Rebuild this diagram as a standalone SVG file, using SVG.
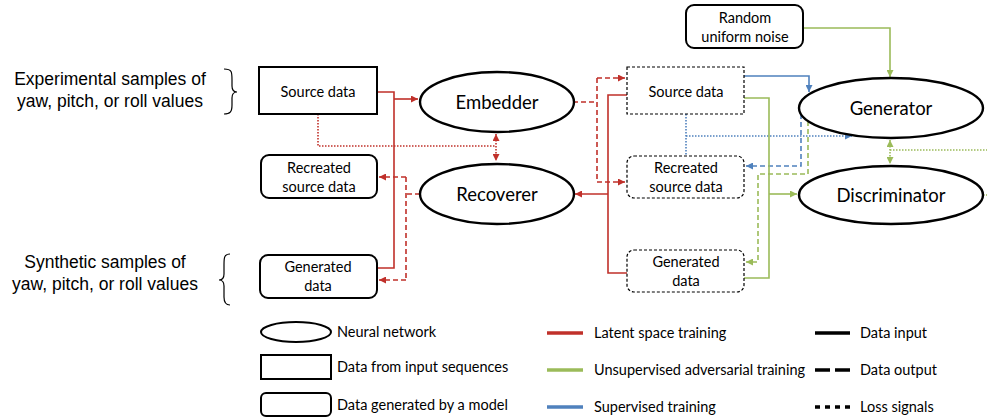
<svg xmlns="http://www.w3.org/2000/svg" width="987" height="420" viewBox="0 0 987 420">
<style>
text{font-family:Lato,"Open Sans",sans-serif;fill:#000}
.side{font-family:"Liberation Sans",Arial,sans-serif;font-size:17.5px;text-anchor:middle}
.nn{font-size:18.5px;text-anchor:middle}
.lbl{font-size:14.5px;text-anchor:middle}
.leg{font-size:14.5px}
.ell{fill:#fff;stroke:#000;stroke-width:2.4}
.inp{fill:#fff;stroke:#000;stroke-width:2}
.gen{fill:#fff;stroke:#000;stroke-width:2}
.dsh{fill:#fff;stroke:#000;stroke-width:1.2;stroke-dasharray:3,2}
.c{fill:none;stroke-width:1.6}
.r{stroke:#c0302a}.g{stroke:#9bbb59}.b{stroke:#4f81bd}
.da{stroke-dasharray:5,3}
.dt{stroke-dasharray:1.5,1.5}
.brace{fill:none;stroke:#000;stroke-width:1.2}
</style>
<defs>
<marker id="ar" viewBox="0 0 8 8" refX="8" refY="4" markerWidth="7" markerHeight="7" markerUnits="userSpaceOnUse" orient="auto-start-reverse"><path d="M0,0 L8,4 L0,8 Z" fill="#c0302a"/></marker>
<marker id="ag" viewBox="0 0 8 8" refX="8" refY="4" markerWidth="7" markerHeight="7" markerUnits="userSpaceOnUse" orient="auto-start-reverse"><path d="M0,0 L8,4 L0,8 Z" fill="#9bbb59"/></marker>
<marker id="ab" viewBox="0 0 8 8" refX="8" refY="4" markerWidth="7" markerHeight="7" markerUnits="userSpaceOnUse" orient="auto-start-reverse"><path d="M0,0 L8,4 L0,8 Z" fill="#4f81bd"/></marker>
</defs>
<rect width="987" height="420" fill="#fff"/>

<g id="side-labels">
<text class="side" x="110" y="85">Experimental samples of</text>
<text class="side" x="110" y="107">yaw, pitch, or roll values</text>
<path class="brace" d="M224,69 C232,69 232,72 232,80 L232,86 C232,90 234,92 237,92 C234,92 232,94 232,98 L232,105 C232,112 230,114 224,114"/>
<text class="side" x="105" y="268">Synthetic samples of</text>
<text class="side" x="105" y="290">yaw, pitch, or roll values</text>
<path class="brace" d="M230,254 C224,254 224,258 224,265 L224,274 C224,278 222,280 219,280 C222,280 224,282 224,286 L224,297 C224,303 226,305 230,305"/>
</g>

<g id="connectors">
<path class="c r" d="M377,92 H394 V268 H377"/>
<path class="c r" d="M394,99 H418" marker-end="url(#ar)"/>
<path class="c r da" d="M420,194 H406"/>
<path class="c r da" d="M406,177 V280"/>
<path class="c r da" d="M406,177 H379" marker-end="url(#ar)"/>
<path class="c r da" d="M406,280 H379" marker-end="url(#ar)"/>
<path class="c r dt" d="M318,114 V146 H496"/>
<path class="c r dt" d="M496,134 V161" marker-start="url(#ar)" marker-end="url(#ar)"/>
<path class="c r da" d="M573,102 H597"/>
<path class="c r da" d="M597,78 V182"/>
<path class="c r da" d="M597,78 H625" marker-end="url(#ar)"/>
<path class="c r da" d="M597,182 H625" marker-end="url(#ar)"/>
<path class="c r" d="M627,95 H608 V273 H627"/>
<path class="c r" d="M608,194 H575" marker-end="url(#ar)"/>
<path class="c b" d="M744,76 H809 V92" marker-end="url(#ab)"/>
<path class="c b dt" d="M686,114 V156"/>
<path class="c b dt" d="M686,136 H852" marker-end="url(#ab)"/>
<path class="c b da" d="M801,114 V166 H746" marker-end="url(#ab)"/>
<path class="c g" d="M803,28 H890 V77" marker-end="url(#ag)"/>
<path class="c g" d="M744,98 H769 V278 H744"/>
<path class="c g" d="M769,194 H797" marker-end="url(#ag)"/>
<path class="c g da" d="M808,121 V174 H758 V262 H746" marker-end="url(#ag)"/>
<path class="c g dt" d="M890,140 V164" marker-start="url(#ag)" marker-end="url(#ag)"/>
<path class="c g dt" d="M890,150 H987"/>
<path class="c g dt" d="M983,195 H987"/>
</g>

<g id="source-data">
<rect class="inp" x="259" y="67" width="118" height="47"/>
<text class="lbl" x="318" y="97">Source data</text>
</g>
<g id="recreated-source-data">
<rect class="gen" x="261" y="155" width="116" height="43" rx="8"/>
<text class="lbl" x="319" y="173">Recreated</text>
<text class="lbl" x="319" y="192">source data</text>
</g>
<g id="generated-data">
<rect class="gen" x="260" y="255" width="117" height="43" rx="8"/>
<text class="lbl" x="318" y="272">Generated</text>
<text class="lbl" x="318" y="291">data</text>
</g>
<g id="embedder">
<ellipse class="ell" cx="497" cy="102" rx="77" ry="30"/>
<text class="nn" x="497" y="109">Embedder</text>
</g>
<g id="recoverer">
<ellipse class="ell" cx="497" cy="194" rx="77" ry="30"/>
<text class="nn" x="497" y="201">Recoverer</text>
</g>
<g id="latent-source-data">
<rect class="dsh" x="627" y="67" width="117" height="47"/>
<text class="lbl" x="686" y="97">Source data</text>
</g>
<g id="latent-recreated-source-data">
<rect class="dsh" x="627" y="156" width="117" height="42" rx="7"/>
<text class="lbl" x="686" y="173">Recreated</text>
<text class="lbl" x="686" y="192">source data</text>
</g>
<g id="latent-generated-data">
<rect class="dsh" x="627" y="250" width="117" height="42" rx="7"/>
<text class="lbl" x="686" y="267">Generated</text>
<text class="lbl" x="686" y="286">data</text>
</g>
<g id="random-noise">
<rect class="gen" x="686" y="5" width="117" height="43" rx="8"/>
<text class="lbl" x="745" y="23">Random</text>
<text class="lbl" x="745" y="42">uniform noise</text>
</g>
<g id="generator">
<ellipse class="ell" cx="891" cy="108" rx="92" ry="30"/>
<text class="nn" x="891" y="115">Generator</text>
</g>
<g id="discriminator">
<ellipse class="ell" cx="891" cy="195" rx="92" ry="29"/>
<text class="nn" x="891" y="202">Discriminator</text>
</g>

<g id="legend">
<ellipse class="ell" cx="296" cy="332" rx="35" ry="10" style="stroke-width:2"/>
<text class="leg" x="337" y="337">Neural network</text>
<rect class="inp" x="261" y="355" width="70" height="24"/>
<text class="leg" x="337" y="372">Data from input sequences</text>
<rect class="gen" x="261" y="393" width="70" height="23" rx="5"/>
<text class="leg" x="337" y="410">Data generated by a model</text>
<line x1="547" y1="333" x2="583" y2="333" stroke="#c0302a" stroke-width="3.5"/>
<text class="leg" x="594" y="338">Latent space training</text>
<line x1="547" y1="370" x2="583" y2="370" stroke="#9bbb59" stroke-width="3.5"/>
<text class="leg" x="594" y="375">Unsupervised adversarial training</text>
<line x1="547" y1="407" x2="583" y2="407" stroke="#4f81bd" stroke-width="3.5"/>
<text class="leg" x="594" y="412">Supervised training</text>
<line x1="815" y1="333" x2="850" y2="333" stroke="#000" stroke-width="3.5"/>
<text class="leg" x="860" y="338">Data input</text>
<line x1="815" y1="370" x2="850" y2="370" stroke="#000" stroke-width="3.5" stroke-dasharray="15,5"/>
<text class="leg" x="860" y="375">Data output</text>
<line x1="815" y1="407" x2="850" y2="407" stroke="#000" stroke-width="3.5" stroke-dasharray="5,5"/>
<text class="leg" x="860" y="412">Loss signals</text>
</g>
</svg>
